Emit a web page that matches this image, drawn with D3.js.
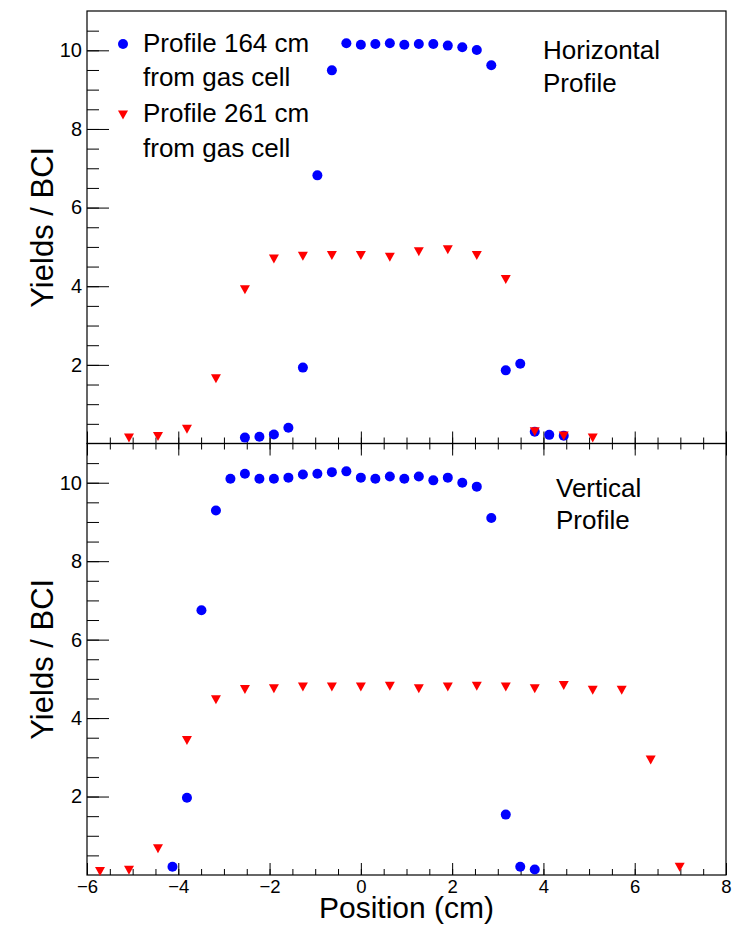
<!DOCTYPE html>
<html>
<head>
<meta charset="utf-8">
<title>Beam profiles</title>
<script src="https://cdnjs.cloudflare.com/ajax/libs/d3/7.8.5/d3.min.js"></script>
<style>
  body { margin: 0; background: white; }
  text { font-family: "Liberation Sans", Arial, Helvetica, sans-serif; }
</style>
</head>
<body>
<script>
// horizontal profile (top pad)
var topX164 = [-2.54, -2.2225, -1.905, -1.5875, -1.27, -0.9525, -0.635, -0.3175, 0, 0.3175, 0.635, 0.9525, 1.27, 1.5875, 1.905, 2.2225, 2.54, 2.8575, 3.175, 3.4925, 3.81, 4.1275, 4.445];
var topY164 = [0.15, 0.17, 0.23, 0.40, 1.93, 6.82, 9.49, 10.18, 10.14, 10.16, 10.18, 10.14, 10.16, 10.16, 10.12, 10.08, 10.01, 9.62, 1.86, 2.03, 0.30, 0.22, 0.20];
var topX261 = [-5.08, -4.445, -3.81, -3.175, -2.54, -1.905, -1.27, -0.635, 0, 0.635, 1.27, 1.905, 2.54, 3.175, 3.81, 4.445, 5.08];
var topY261 = [0.14, 0.18, 0.36, 1.65, 3.91, 4.69, 4.76, 4.78, 4.78, 4.74, 4.88, 4.93, 4.78, 4.17, 0.30, 0.19, 0.14];

// vertical profile (bottom pad)
var botX164 = [-4.1275, -3.81, -3.4925, -3.175, -2.8575, -2.54, -2.2225, -1.905, -1.5875, -1.27, -0.9525, -0.635, -0.3175, 0, 0.3175, 0.635, 0.9525, 1.27, 1.5875, 1.905, 2.2225, 2.54, 2.8575, 3.175, 3.4925, 3.81];
var botY164 = [0.21, 1.97, 6.75, 9.29, 10.10, 10.23, 10.10, 10.10, 10.13, 10.21, 10.23, 10.27, 10.29, 10.13, 10.10, 10.16, 10.10, 10.16, 10.06, 10.13, 10.00, 9.90, 9.10, 1.54, 0.21, 0.14];
var botX261 = [-5.715, -5.08, -4.445, -3.81, -3.175, -2.54, -1.905, -1.27, -0.635, 0, 0.635, 1.27, 1.905, 2.54, 3.175, 3.81, 4.445, 5.08, 5.715, 6.35, 6.985];
var botY261 = [0.09, 0.12, 0.67, 3.43, 4.47, 4.73, 4.75, 4.79, 4.79, 4.79, 4.81, 4.75, 4.79, 4.81, 4.79, 4.75, 4.83, 4.71, 4.71, 2.93, 0.20];

var xTicks = [-6, -4, -2, 0, 2, 4, 6, 8];
var yTicks = [2, 4, 6, 8, 10];
var legendLabels = [["Profile 164 cm", "from gas cell"], ["Profile 261 cm", "from gas cell"]];

var w = 755, h = 925;
var left = 87, right = 726;
var topPad = [11, 443.5], botPad = [443.5, 875];

var svg = d3.select("body").append("svg")
  .attr("width", w)
  .attr("height", h);

var x = d3.scaleLinear().domain([-6, 8]).range([left, right]);
var yTop = d3.scaleLinear().domain([0, 11]).range([topPad[1], topPad[0]]);
var yBot = d3.scaleLinear().domain([0, 11]).range([botPad[1], botPad[0]]);

var triPath = "M-5,-4.5L5,-4.5L0,4.5Z";

function drawPad(y, pad, showXLabels, side) {
  var g = svg.append("g");
  var minorX = d3.range(-6, 8.01, 0.5);
  var minorY = d3.range(0.5, 11, 0.5);

  // y axis, ticks pointing inside
  g.append("g").attr("transform", "translate(" + left + ",0)")
    .call(d3.axisLeft(y).tickValues(minorY).tickSize(-12).tickFormat(""));
  g.append("g").attr("transform", "translate(" + left + ",0)")
    .call(d3.axisLeft(y).tickValues(yTicks).tickSize(-22).tickPadding(5).tickFormat(d3.format("d")))
    .selectAll("text").attr("font-size", 20);

  // bottom x axis
  g.append("g").attr("transform", "translate(0," + pad[1] + ")")
    .call(d3.axisBottom(x).tickValues(minorX).tickSize(-6).tickFormat(""));
  var xb = g.append("g").attr("transform", "translate(0," + pad[1] + ")")
    .call(d3.axisBottom(x).tickValues(xTicks).tickSize(-12).tickPadding(5)
      .tickFormat(showXLabels ? d3.format("d") : ""));
  xb.selectAll("text").attr("font-size", 18.5);

  // top x axis of the lower pad has ticks too
  if (side == "bottom") {
    g.append("g").attr("transform", "translate(0," + pad[0] + ")")
      .call(d3.axisTop(x).tickValues(minorX).tickSize(-6).tickFormat(""));
    g.append("g").attr("transform", "translate(0," + pad[0] + ")")
      .call(d3.axisTop(x).tickValues(xTicks).tickSize(-12).tickFormat(""));
  }

  g.selectAll(".domain").remove();
  g.selectAll(".tick line").attr("stroke", "#000").attr("stroke-width", 1);
  g.selectAll(".tick text").attr("fill", "#000").attr("font-family", "Liberation Sans, Arial, sans-serif");

  // frame
  g.append("rect")
    .attr("x", left)
    .attr("y", pad[0])
    .attr("width", right - left)
    .attr("height", pad[1] - pad[0])
    .attr("fill", "none")
    .attr("stroke", "#000")
    .attr("stroke-width", 1.2);

  // y title
  g.append("text")
    .text("Yields / BCI")
    .attr("transform", "translate(53," + ((pad[0] + pad[1]) / 2) + ") rotate(-90)")
    .attr("text-anchor", "middle")
    .attr("font-size", 31)
    .attr("fill", "#000");
}

function drawPoints(xs, ys, y, kind) {
  var data = xs.map(function(d, i) { return [d, ys[i]]; });
  if (kind == "circle") {
    svg.append("g").selectAll("circle").data(data).enter().append("circle")
      .attr("cx", function(d) { return x(d[0]); })
      .attr("cy", function(d) { return y(d[1]); })
      .attr("r", 5)
      .attr("fill", "#0000ff");
  } else {
    svg.append("g").selectAll("path").data(data).enter().append("path")
      .attr("d", triPath)
      .attr("transform", function(d) { return "translate(" + x(d[0]) + "," + y(d[1]) + ")"; })
      .attr("fill", "#ff0000");
  }
}

drawPad(yTop, topPad, false, "top");
drawPad(yBot, botPad, true, "bottom");

drawPoints(topX164, topY164, yTop, "circle");
drawPoints(topX261, topY261, yTop, "tri");
drawPoints(botX164, botY164, yBot, "circle");
drawPoints(botX261, botY261, yBot, "tri");

// x title
svg.append("text")
  .text("Position (cm)")
  .attr("x", (left + right) / 2)
  .attr("y", 918)
  .attr("text-anchor", "middle")
  .attr("font-size", 30)
  .attr("fill", "#000");

// legend
svg.append("circle").attr("cx", 123).attr("cy", 44).attr("r", 5).attr("fill", "#0000ff");
svg.append("path").attr("d", triPath).attr("transform", "translate(123,115)").attr("fill", "#ff0000");
var legY = [[52, 86], [122, 157]];
legendLabels.forEach(function(lines, i) {
  lines.forEach(function(t, j) {
    svg.append("text")
      .text(t)
      .attr("x", 143)
      .attr("y", legY[i][j])
      .attr("font-size", 26)
      .attr("fill", "#000");
  });
});

// pad labels
var padNotes = [{ lines: ["Horizontal", "Profile"], x: 543, y: [59, 92] },
                { lines: ["Vertical", "Profile"], x: 556, y: [497, 529] }];
padNotes.forEach(function(n) {
  n.lines.forEach(function(t, j) {
    svg.append("text")
      .text(t)
      .attr("x", n.x)
      .attr("y", n.y[j])
      .attr("font-size", 26)
      .attr("fill", "#000");
  });
});
</script>
</body>
</html>
